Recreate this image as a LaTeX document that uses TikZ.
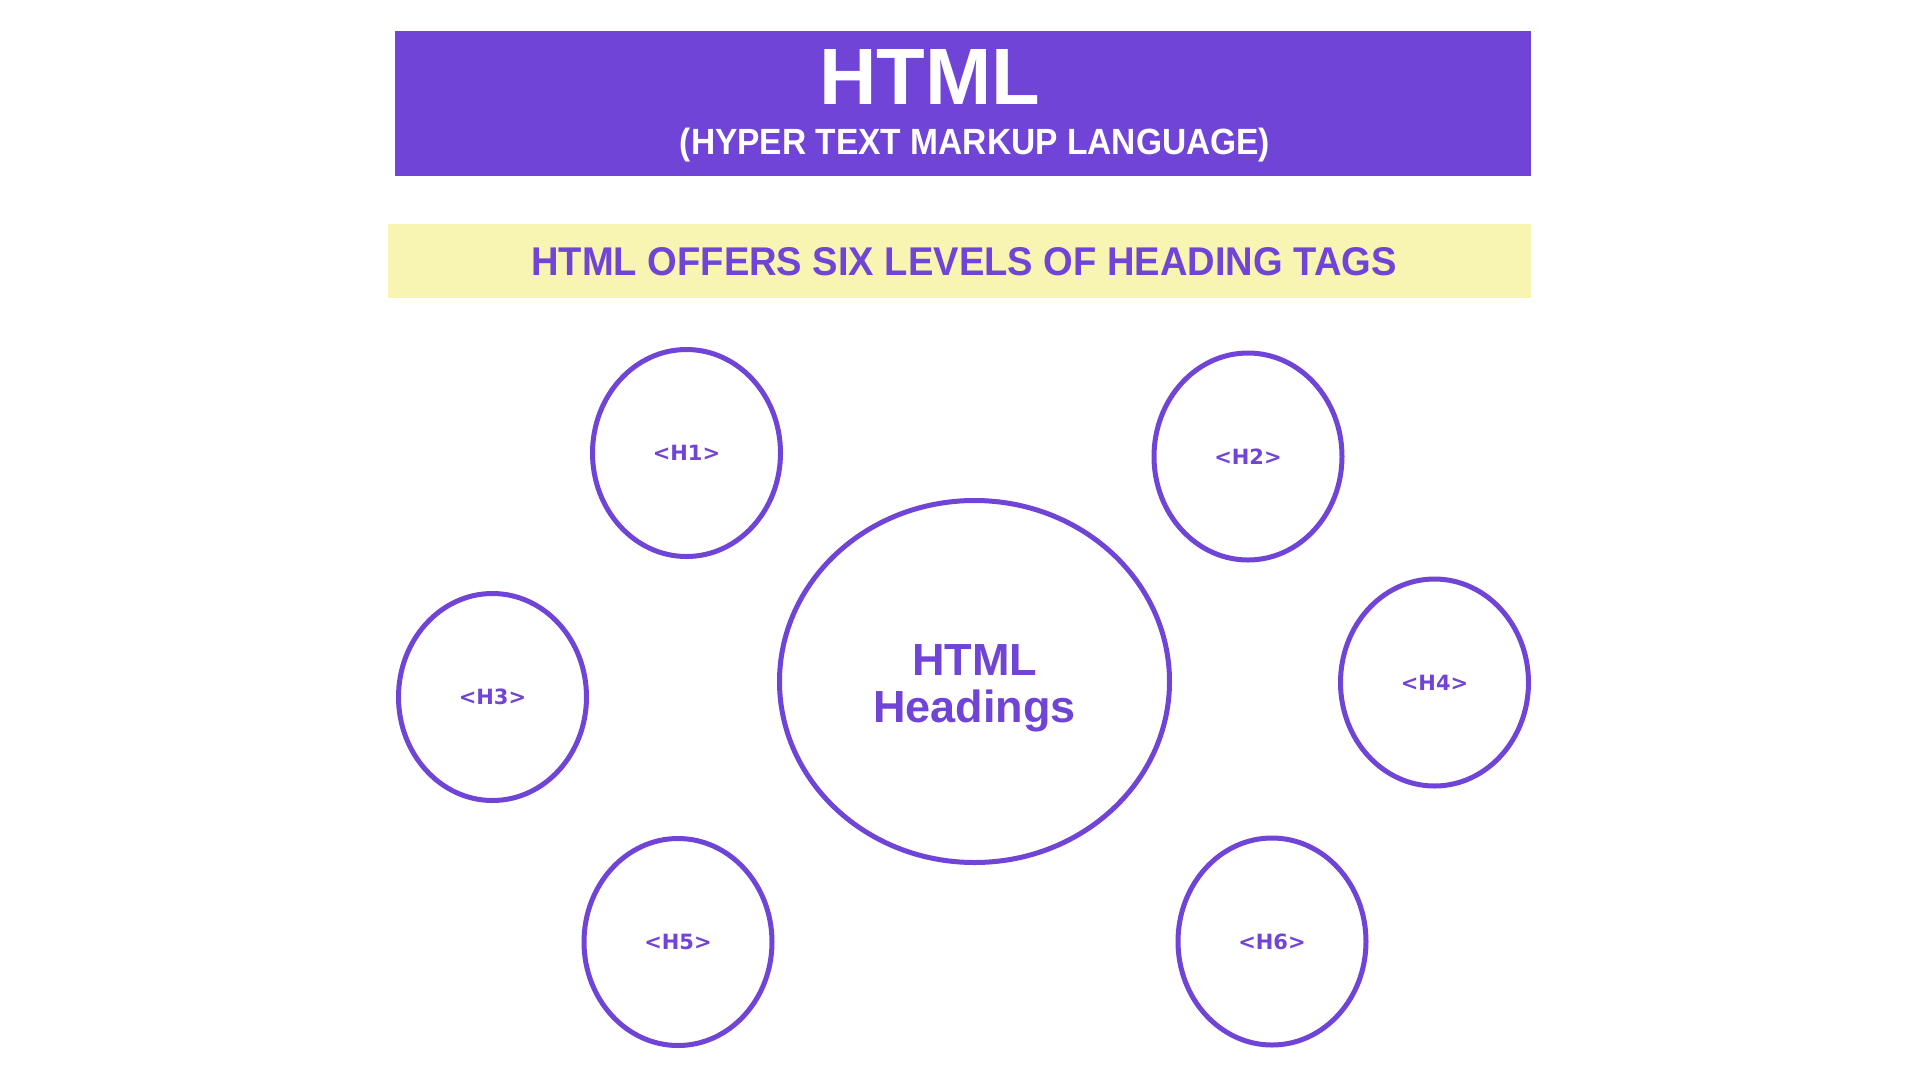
\documentclass[tikz,border=0pt]{standalone}
\usepackage{fontspec}
\setmainfont{Liberation Sans}
\newfontfamily\labelfont{DejaVu Sans}
\usetikzlibrary{shapes.geometric}
\definecolor{htmlpurple}{HTML}{6F44D6}
\definecolor{htmlyellow}{HTML}{F8F4B1}
\tikzset{
  banner/.style={fill=htmlpurple, draw=none},
  ribbon/.style={fill=htmlyellow, draw=none},
  tagoval/.style={ellipse, draw=htmlpurple, line width=5pt, fill=white,
    minimum width=188pt, minimum height=207pt, inner sep=0pt,
    text=htmlpurple, font=\labelfont\bfseries\fontsize{21}{24}\selectfont},
  hubova/.style={ellipse, draw=htmlpurple, line width=5pt, fill=white,
    minimum width=390pt, minimum height=362pt, inner sep=0pt},
  hubtext/.style={inner sep=0pt, text=htmlpurple, align=center,
    font=\bfseries\fontsize{45}{47}\selectfont},
  plain/.style={inner sep=0pt, outer sep=0pt}
}
\begin{document}
\begin{tikzpicture}[x=1pt, y=-1pt]
\useasboundingbox[fill=white] (0,0) rectangle (1920,1080);
% banners
\path[banner] (395,31) rectangle (1531,176);
\path[ribbon] (388,224) rectangle (1531,298);
\node[plain, text=white] (title) at (930,77)
  {\resizebox{221pt}{55pt}{\bfseries HTML}};
\node[plain, text=white] (subtitle) at (975,145)
  {\resizebox*{590pt}{34pt}{\bfseries (HYPER TEXT MARKUP LANGUAGE)}};
\node[plain, text=htmlpurple] (levels) at (964,262)
  {\resizebox{865pt}{28pt}{\bfseries HTML OFFERS SIX LEVELS OF HEADING TAGS}};
% hub
\node[hubova, label={[name=hublabel, hubtext, yshift=-7pt]center:HTML\\Headings}]
  (hub) at (974.5,681.5) {};
% tags
\node[tagoval] (h1) at (686.5,453) {<H1>};
\node[tagoval] (h2) at (1248,456.5) {<H2>};
\node[tagoval] (h3) at (492.5,697) {<H3>};
\node[tagoval] (h4) at (1434.5,682.5) {<H4>};
\node[tagoval] (h5) at (678,942) {<H5>};
\node[tagoval] (h6) at (1272,941.5) {<H6>};
\end{tikzpicture}
\end{document}
